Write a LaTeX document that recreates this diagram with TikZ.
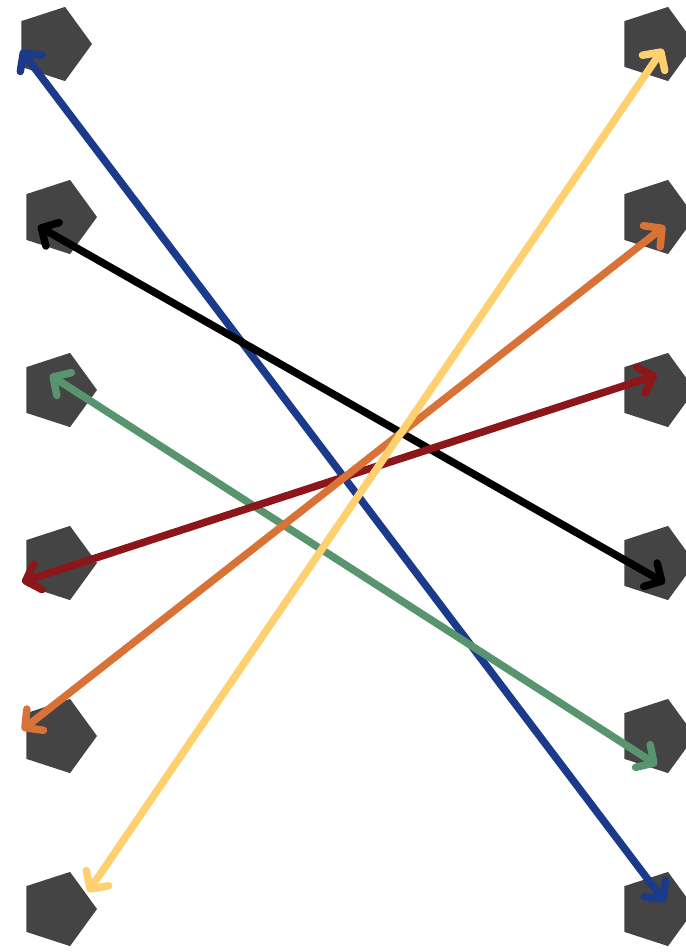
\documentclass[tikz,border=0pt]{standalone}
\usepackage{tikz}
\usetikzlibrary{calc,positioning,shapes.geometric,arrows.meta}

\definecolor{pentgray}{RGB}{68,68,68}
\definecolor{linkblue}{RGB}{27,58,140}
\definecolor{linkyellow}{RGB}{255,208,111}
\definecolor{linkorange}{RGB}{217,114,54}
\definecolor{linkred}{RGB}{140,22,26}
\definecolor{linkgreen}{RGB}{88,148,110}

\tikzset{
  pent/.style={regular polygon, regular polygon sides=5, shape border rotate=-90,
    fill=pentgray, draw=none, minimum size=78pt, inner sep=0pt},
  link/.style={line width=7.5pt, line cap=round,
    {Straight Barb[length=13pt,width=27pt,round]}-{Straight Barb[length=13pt,width=27pt,round]}},
}

\begin{document}
\begin{tikzpicture}[x=1pt, y=-1pt, node distance=173pt, on grid]
		\useasboundingbox (0,0) rectangle (685,952) ;
		% Left column
		\node[pent] (L1) at (53,44) {} ;
		\node[pent, below=of L1, xshift=5pt] (L2) {} ;
		\node[pent, below=of L2] (L3) {} ;
		\node[pent, below=of L3] (L4) {} ;
		\node[pent, below=of L4] (L5) {} ;
		\node[pent, below=of L5] (L6) {} ;
		% Right column
		\node[pent, right=603pt of L1] (R1) {} ;
		\node[pent, below=of R1] (R2) {} ;
		\node[pent, below=of R2] (R3) {} ;
		\node[pent, below=of R3] (R4) {} ;
		\node[pent, below=of R4] (R5) {} ;
		\node[pent, below=of R5] (R6) {} ;
		% Arrow ends
		\coordinate (blueL) at ($(L1)+(-32,6)$) ;
		\coordinate (blueR) at ($(R6)+(9,-7)$) ;
		\coordinate (blackL) at ($(L2)+(-20,9)$) ;
		\coordinate (blackR) at ($(R4)+(9,20)$) ;
		\coordinate (greenL) at ($(L3)+(-8,-15)$) ;
		\coordinate (greenR) at ($(R5)+(1,29)$) ;
		\coordinate (redL) at ($(L4)+(-36,19)$) ;
		\coordinate (redR) at ($(R3)+(1,-15)$) ;
		\coordinate (orangeL) at ($(L5)+(-36,-6)$) ;
		\coordinate (orangeR) at ($(R2)+(9,9)$) ;
		\coordinate (yellowL) at ($(L6)+(30,-17)$) ;
		\coordinate (yellowR) at ($(R1)+(7,5)$) ;
		% Links
		\draw[link, linkblue] (blueL) -- (blueR) ;
		\draw[link, black] (blackL) -- (blackR) ;
		\draw[link, linkgreen] (greenL) -- (greenR) ;
		\draw[link, linkred] (redL) -- (redR) ;
		\draw[link, linkorange] (orangeL) -- (orangeR) ;
		\draw[link, linkyellow] (yellowL) -- (yellowR) ;
\end{tikzpicture}
\end{document}
